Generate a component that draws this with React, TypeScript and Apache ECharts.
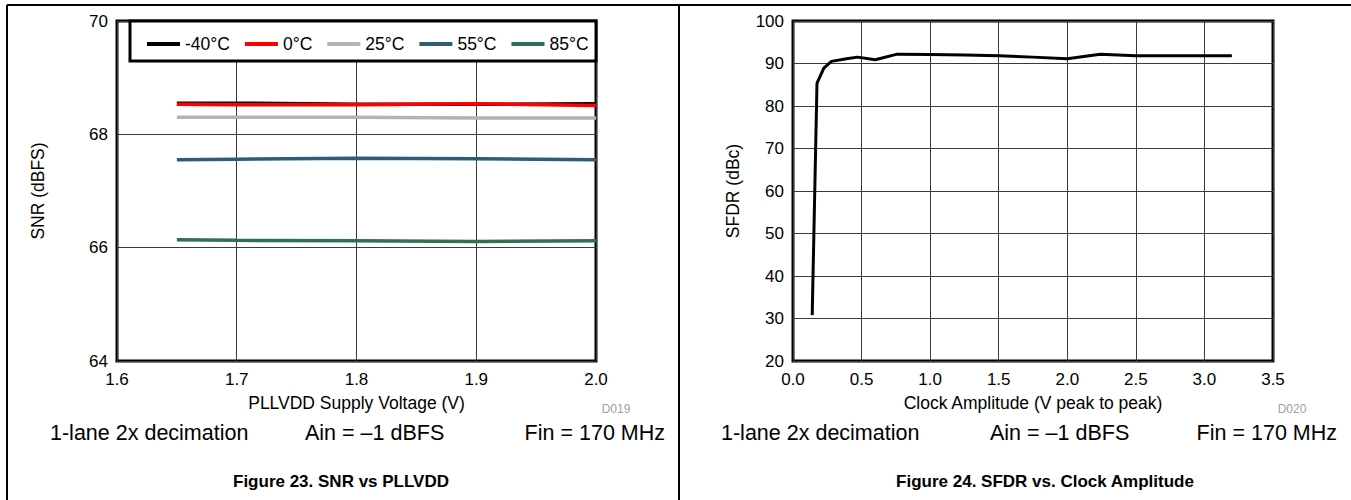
import React, { useEffect, useRef } from "react";
import * as echarts from "echarts";

// ---- Data: Figure 23 (SNR vs PLLVDD) ----
const voltages = [1.65, 1.7, 1.8, 1.9, 2.0];
const snrM40 = [68.55, 68.55, 68.53, 68.53, 68.54];
const snr0 = [68.53, 68.52, 68.52, 68.54, 68.51];
const snr25 = [68.3, 68.3, 68.3, 68.29, 68.29];
const snr55 = [67.55, 67.56, 67.58, 67.57, 67.55];
const snr85 = [66.14, 66.13, 66.12, 66.11, 66.12];
const snrSeriesNames = ["-40°C", "0°C", "25°C", "55°C", "85°C"];
const snrSeriesData = [snrM40, snr0, snr25, snr55, snr85];
const snrColors = ["#000000", "#ff0000", "#b3b3b3", "#2d5d77", "#2e7250"];

// ---- Data: Figure 24 (SFDR vs Clock Amplitude) ----
const clockAmp = [0.14, 0.175, 0.225, 0.28, 0.39, 0.47, 0.6, 0.76, 1.0, 1.25, 1.5, 1.75, 2.0, 2.24, 2.5, 3.0, 3.2];
const sfdr = [30.8, 85.4, 88.9, 90.5, 91.1, 91.5, 90.9, 92.2, 92.1, 92.0, 91.8, 91.5, 91.1, 92.2, 91.8, 91.8, 91.8];

const FONT = "'Liberation Sans', Arial, Helvetica, sans-serif";

export default function App() {
  const ref = useRef<HTMLDivElement>(null);

  useEffect(() => {
    if (!ref.current) return;
    const chart = echarts.init(ref.current, undefined, { renderer: "svg" });

    const splitLine = { show: true, lineStyle: { color: "#3a3a3a", width: 1 } };
    const axisLabel = { color: "#000", fontSize: 17, fontFamily: FONT };
    const nameStyle = { color: "#000", fontSize: 17.5, fontFamily: FONT };

    const noteStyle = { fill: "#000", fontSize: 21.5, fontFamily: FONT };
    const titleStyle = { fill: "#000", fontSize: 17, fontWeight: "bold", fontFamily: FONT };

    const option: any = {
      animation: false,
      backgroundColor: "#fff",
      textStyle: { fontFamily: FONT },
      grid: [
        { left: 117, top: 21, right: 1351 - 596, bottom: 500 - 361, show: true, borderColor: "#000", borderWidth: 3, backgroundColor: "transparent", containLabel: false },
        { left: 793, top: 21, right: 1351 - 1273, bottom: 500 - 361, show: true, borderColor: "#000", borderWidth: 3, backgroundColor: "transparent", containLabel: false },
      ],
      xAxis: [
        {
          gridIndex: 0, type: "value", min: 1.6, max: 2.0, interval: 0.1,
          axisLine: { show: false }, axisTick: { show: false }, splitLine,
          axisLabel: { ...axisLabel, margin: 10, formatter: (v: number) => v.toFixed(1) },
          name: "PLLVDD Supply Voltage (V)", nameLocation: "middle", nameGap: 33, nameTextStyle: nameStyle,
        },
        {
          gridIndex: 1, type: "value", min: 0, max: 3.5, interval: 0.5,
          axisLine: { show: false }, axisTick: { show: false }, splitLine,
          axisLabel: { ...axisLabel, margin: 10, formatter: (v: number) => v.toFixed(1) },
          name: "Clock Amplitude (V peak to peak)", nameLocation: "middle", nameGap: 33, nameTextStyle: nameStyle,
        },
      ],
      yAxis: [
        {
          gridIndex: 0, type: "value", min: 64, max: 70, interval: 2,
          axisLine: { show: false }, axisTick: { show: false }, splitLine,
          axisLabel: { ...axisLabel, margin: 9 },
          name: "SNR (dBFS)", nameLocation: "middle", nameGap: 70, nameTextStyle: nameStyle,
        },
        {
          gridIndex: 1, type: "value", min: 20, max: 100, interval: 10,
          axisLine: { show: false }, axisTick: { show: false }, splitLine,
          axisLabel: { ...axisLabel, margin: 9 },
          name: "SFDR (dBc)", nameLocation: "middle", nameGap: 51, nameTextStyle: nameStyle,
        },
      ],
      legend: {
        left: 142, top: 30, itemWidth: 33, itemHeight: 4, itemGap: 15, icon: "rect",
        data: snrSeriesNames,
        textStyle: { color: "#000", fontSize: 17.5, fontFamily: FONT },
        z: 10,
      },
      graphic: [
        { type: "line", shape: { x1: 7, y1: 5, x2: 1351, y2: 5 }, style: { stroke: "#000", lineWidth: 2 } },
        { type: "line", shape: { x1: 7, y1: 5, x2: 7, y2: 500 }, style: { stroke: "#000", lineWidth: 2 } },
        { type: "line", shape: { x1: 679, y1: 5, x2: 679, y2: 500 }, style: { stroke: "#000", lineWidth: 2 } },
        { type: "rect", shape: { x: 130, y: 21, width: 466, height: 40 }, style: { fill: "#fff", stroke: "#000", lineWidth: 3 }, z: 5 },
        // Left notes
        { type: "text", x: 616, y: 409, style: { text: "D019", fill: "#a0a0a0", fontSize: 12, fontFamily: FONT, textAlign: "center", textVerticalAlign: "middle" } },
        { type: "text", x: 50, y: 433, style: { ...noteStyle, text: "1-lane 2x decimation", textAlign: "left", textVerticalAlign: "middle" } },
        { type: "text", x: 305, y: 433, style: { ...noteStyle, text: "Ain = –1 dBFS", textAlign: "left", textVerticalAlign: "middle" } },
        { type: "text", x: 665, y: 433, style: { ...noteStyle, text: "Fin = 170 MHz", textAlign: "right", textVerticalAlign: "middle" } },
        { type: "text", x: 341, y: 481, style: { ...titleStyle, text: "Figure 23. SNR vs PLLVDD", textAlign: "center", textVerticalAlign: "middle" } },
        // Right notes
        { type: "text", x: 1292, y: 409, style: { text: "D020", fill: "#a0a0a0", fontSize: 12, fontFamily: FONT, textAlign: "center", textVerticalAlign: "middle" } },
        { type: "text", x: 721, y: 433, style: { ...noteStyle, text: "1-lane 2x decimation", textAlign: "left", textVerticalAlign: "middle" } },
        { type: "text", x: 990, y: 433, style: { ...noteStyle, text: "Ain = –1 dBFS", textAlign: "left", textVerticalAlign: "middle" } },
        { type: "text", x: 1337, y: 433, style: { ...noteStyle, text: "Fin = 170 MHz", textAlign: "right", textVerticalAlign: "middle" } },
        { type: "text", x: 1045, y: 481, style: { ...titleStyle, text: "Figure 24. SFDR vs. Clock Amplitude", textAlign: "center", textVerticalAlign: "middle" } },
      ],
      series: [
        ...snrSeriesNames.map((name, i) => ({
          name,
          type: "line",
          xAxisIndex: 0,
          yAxisIndex: 0,
          showSymbol: false,
          symbol: "none",
          smooth: false,
          color: snrColors[i],
          lineStyle: { color: snrColors[i], width: 3.5 },
          data: voltages.map((v, j) => [v, snrSeriesData[i][j]]),
          z: 2,
        })),
        {
          name: "SFDR",
          type: "line",
          xAxisIndex: 1,
          yAxisIndex: 1,
          showSymbol: false,
          symbol: "none",
          color: "#000",
          lineStyle: { color: "#000", width: 3 },
          data: clockAmp.map((v, j) => [v, sfdr[j]]),
          z: 2,
        },
      ],
    };

    chart.setOption(option);
    return () => chart.dispose();
  }, []);

  return (
    <div
      ref={ref}
      style={{ position: "absolute", left: 0, top: 0, width: 1351, height: 500, background: "#fff" }}
    />
  );
}
